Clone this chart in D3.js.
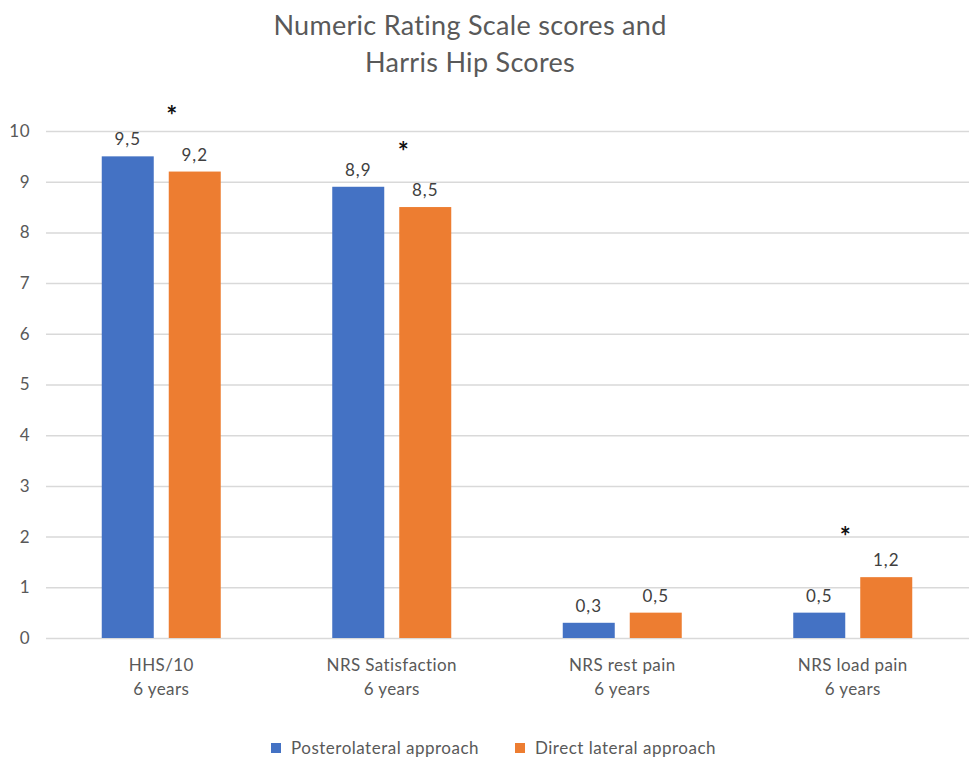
<!DOCTYPE html>
<html>
<head>
<meta charset="utf-8">
<script src="https://cdn.jsdelivr.net/npm/d3@7"></script>
<style>
  html, body { margin: 0; padding: 0; background: #fff; }
  svg { display: block; }
  text { font-family: Lato, "Open Sans", sans-serif; }
</style>
</head>
<body>
<svg id="chart" width="969" height="758"></svg>
<script>
// ---- data ----
const titleLines = ["Numeric Rating Scale scores and", "Harris Hip Scores"];
const categories = [["HHS/10", "6 years"], ["NRS Satisfaction", "6 years"], ["NRS rest pain", "6 years"], ["NRS load pain", "6 years"]];
const seriesNames = ["Posterolateral approach", "Direct lateral approach"];
const posterolateral = [9.5, 8.9, 0.3, 0.5];
const directLateral = [9.2, 8.5, 0.5, 1.2];
const valueLabels = [["9,5", "9,2"], ["8,9", "8,5"], ["0,3", "0,5"], ["0,5", "1,2"]];
const yTicks = [0, 1, 2, 3, 4, 5, 6, 7, 8, 9, 10];
const asteriskCategories = [0, 1, 3];
const asteriskValues = [10.4, 9.68, 2.1];

// ---- layout ----
const colors = ["#4472c4", "#ed7d31"];
const W = 969, H = 758;
const mLeft = 46, mRight = 968, mTop = 131, mBottom = 638;
const svg = d3.select("#chart");

const x = d3.scaleBand().domain(d3.range(categories.length)).range([mLeft, mRight]);
const y = d3.scaleLinear().domain([0, 10]).range([mBottom, mTop]);
const barW = 52, gap = 15;
const xs = d3.scaleBand().domain([0, 1]).range([0, barW * 2 + gap]).paddingInner(gap / (barW + gap));
const groupOffset = (x.bandwidth() - (barW * 2 + gap)) / 2;

// title
svg.append("g").selectAll("text").data(titleLines).join("text")
  .attr("x", 470).attr("y", (d, i) => 35 + i * 37)
  .attr("text-anchor", "middle").attr("font-size", 27).attr("letter-spacing", 0.3).attr("fill", "#595959")
  .text(d => d);

// gridlines + y axis
const yAxis = d3.axisLeft(y).tickValues(yTicks).tickSize(-(W - mLeft)).tickPadding(16).tickFormat(d3.format("d"));
const ga = svg.append("g").attr("transform", `translate(${mLeft},0)`).call(yAxis);
ga.select(".domain").remove();
ga.selectAll(".tick line").attr("stroke", "#d9d9d9").attr("stroke-width", 1.5);
ga.selectAll(".tick text").attr("font-size", 17).attr("letter-spacing", 0.5).attr("fill", "#595959").attr("font-family", "Lato, 'Open Sans', sans-serif");

// bars
const seriesData = [posterolateral, directLateral];
const groups = svg.append("g").selectAll("g").data(categories).join("g")
  .attr("transform", (d, i) => `translate(${x(i) + groupOffset},0)`);
groups.selectAll("rect").data((d, i) => seriesData.map((s, k) => ({ k, v: s[i], i }))).join("rect")
  .attr("x", d => xs(d.k)).attr("width", xs.bandwidth())
  .attr("y", d => y(d.v)).attr("height", d => y(0) - y(d.v))
  .attr("fill", d => colors[d.k]);
groups.selectAll("text.val").data((d, i) => seriesData.map((s, k) => ({ k, v: s[i], i }))).join("text")
  .attr("class", "val")
  .attr("x", d => xs(d.k) + xs.bandwidth() / 2).attr("y", d => y(d.v) - 11)
  .attr("text-anchor", "middle").attr("font-size", 17).attr("letter-spacing", 1).attr("fill", "#404040")
  .text(d => valueLabels[d.i][d.k]);

// asterisks
const astDx = [3, 4, -15];
svg.append("g").selectAll("text").data(asteriskCategories).join("text")
  .attr("x", (c, j) => x(c) + groupOffset + xs(1) + astDx[j])
  .attr("y", (c, j) => y(asteriskValues[j]) + 14)
  .attr("text-anchor", "middle").attr("font-size", 26).attr("font-weight", "bold").attr("fill", "#111")
  .text("*");

// category labels
const cl = svg.append("g").selectAll("text").data(categories).join("text")
  .attr("x", (d, i) => x(i) + x.bandwidth() / 2).attr("y", 671)
  .attr("text-anchor", "middle").attr("font-size", 17).attr("letter-spacing", 0.4).attr("fill", "#595959");
cl.selectAll("tspan").data(d => d).join("tspan")
  .attr("x", function () { return d3.select(this.parentNode).attr("x"); })
  .attr("dy", (d, i) => i === 0 ? 0 : 24).text(d => d);

// legend
const legendX = [271, 515];
const lg = svg.append("g").selectAll("g").data(seriesNames).join("g")
  .attr("transform", (d, i) => `translate(${legendX[i]},743)`);
lg.append("rect").attr("width", 10).attr("height", 10).attr("fill", (d, i) => colors[i]);
lg.append("text").attr("x", 20).attr("y", 11).attr("font-size", 17).attr("letter-spacing", 0.5).attr("fill", "#595959").text(d => d);
</script>
</body>
</html>
